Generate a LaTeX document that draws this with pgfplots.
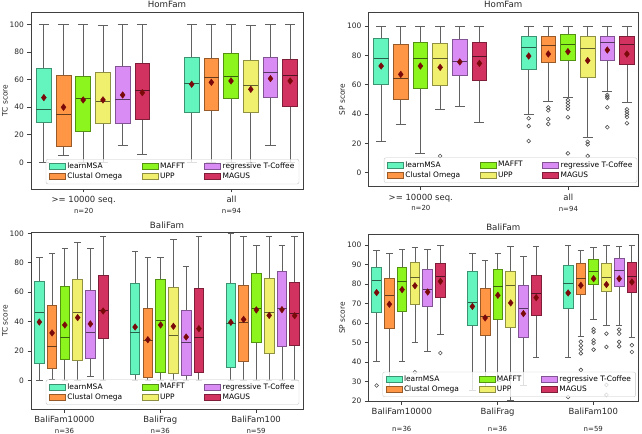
\documentclass[border=0pt]{standalone}
\usepackage{fontspec}
\setmainfont{DejaVu Sans}
\usepackage{pgfplots}
\pgfplotsset{compat=1.18}
\usepgfplotslibrary{statistics}
\definecolor{cA}{HTML}{64F5BE}
\definecolor{cB}{HTML}{FF9646}
\definecolor{cC}{HTML}{8CF51E}
\definecolor{cD}{HTML}{F0F06E}
\definecolor{cE}{HTML}{DA8CF5}
\definecolor{cF}{HTML}{D2325F}
\definecolor{meanred}{HTML}{7A0A0A}
\newcommand{\bxw}{0.1}
\newcommand{\wkw}{0.068}
% color, position, lower whisker, Q1, median, Q3, upper whisker, outliers
\newcommand{\bx}[8]{%
\addplot[forget plot, draw=black!62, line width=0.85bp, mark=o, mark size=1.9bp,
 mark options={draw=black!70, fill=none, line width=0.6bp},
 boxplot/draw direction=y,
 boxplot/every box/.style={fill=#1, draw=#1!60!black, line width=0.8bp},
 boxplot/every median/.style={draw=#1!40!black, line width=1bp},
 boxplot prepared={draw position=#2, lower whisker=#3, lower quartile=#4, median=#5,
 upper quartile=#6, upper whisker=#7, box extend=\bxw, whisker extend=\wkw}]
 coordinates {#8};}
\newcommand{\leg}{%
\addlegendimage{fill=cA,draw=cA!60!black}\addlegendentry{learnMSA}
\addlegendimage{fill=cC,draw=cC!60!black}\addlegendentry{MAFFT}
\addlegendimage{fill=cE,draw=cE!60!black}\addlegendentry{regressive T-Coffee}
\addlegendimage{fill=cB,draw=cB!60!black}\addlegendentry{Clustal Omega}
\addlegendimage{fill=cD,draw=cD!60!black}\addlegendentry{UPP}
\addlegendimage{fill=cF,draw=cF!60!black}\addlegendentry{MAGUS}}
\pgfplotsset{
 legend image code/.code={\draw[#1, sharp corners, fill opacity=1, draw opacity=1, line width=0.7bp] (0bp,-3bp) rectangle (16bp,3bp);},
 panel/.style={
  scale only axis, anchor=south west,
  axis line style={black!75, line width=0.7bp},
  tick style={black!75, line width=0.7bp},
  tick align=outside, major tick length=3.5bp, tick pos=left,
  /pgf/number format/assume math mode=true,
  yticklabel style={font=\fontsize{7.5}{8}\selectfont, text=black!85},
  xticklabel style={font=\fontsize{8.5}{10}\selectfont, text=black!85, align=center},
  ylabel style={font=\fontsize{7.5}{9}\selectfont, text=black!85, anchor=center},
  title style={font=\fontsize{8.7}{10}\selectfont, text=black!85, yshift=-5bp},
  legend columns=3,
  legend cell align=left,
  legend style={anchor=south east, draw=black!22, rounded corners=2bp, fill=white,
   fill opacity=0.8, text opacity=1, font=\fontsize{7.5}{9}\selectfont,
   inner xsep=3bp, inner ysep=2bp, nodes={inner sep=1.6bp},
   /tikz/every even column/.append style={column sep=18bp}},
 },
 meanst/.style={forget plot, only marks, mark=diamond*, mark size=3.3bp,
  mark options={fill=meanred, draw=meanred}},
}
\begin{document}
\begin{tikzpicture}
\useasboundingbox (0,0) rectangle (642bp,434bp);
% ---------------- top left: HomFam TC
\begin{axis}[panel, at={(31bp,245bp)}, width=272bp, height=177bp,
 xmin=-0.42, xmax=1.42, ymin=-19.4, ymax=109.2, ytick={0,20,...,100},
 xtick={-0.064,0.936},
 xticklabels={{>= 10000 seq.\\[1bp]{\fontsize{7}{8}\selectfont n=20}},{all\\[1bp]{\fontsize{7}{8}\selectfont n=94}}},
 ylabel={TC score}, ylabel style={at={(axis description cs:-0.0956,0.5)}},
 title={HomFam}, legend style={at={(0.986,0.027)}}]
\bx{cA}{-0.333}{0}{28.8}{38}{68.3}{100}{}
\bx{cB}{-0.2}{5.3}{11.9}{34.9}{63.4}{100}{}
\bx{cC}{-0.067}{0}{22.5}{46.7}{62.2}{100}{}
\bx{cD}{0.067}{0}{28.3}{44.3}{65.1}{99.5}{}
\bx{cE}{0.2}{12.3}{28.1}{45.8}{69.5}{100}{}
\bx{cF}{0.333}{5.8}{31.2}{51.8}{71.9}{100}{}
\bx{cA}{0.667}{0}{36.1}{57.4}{76.3}{100}{}
\bx{cB}{0.8}{0}{38}{61.7}{75.3}{100}{}
\bx{cC}{0.933}{0}{46.2}{62.2}{79.2}{100}{}
\bx{cD}{1.067}{0}{36.3}{55.7}{74.3}{99.5}{}
\bx{cE}{1.2}{12.6}{47.5}{65.1}{76.3}{100}{}
\bx{cF}{1.333}{0}{40.4}{63.2}{74.8}{100}{}
\addplot[meanst] coordinates {(-0.333,47)(-0.2,40)(-0.067,45.3)(0.067,45.3)(0.2,48.9)(0.333,50.6)(0.667,56.7)(0.8,58.1)(0.933,59.1)(1.067,53)(1.2,60.8)(1.333,59.1)};
\leg
\end{axis}
% ---------------- top right: HomFam SP
\begin{axis}[panel, at={(368.3bp,247.3bp)}, width=270bp, height=174.4bp,
 xmin=-0.42, xmax=1.41, ymin=-9.5, ymax=109.3, ytick={0,20,...,100},
 xtick={-0.064,0.936},
 xticklabels={{>= 10000 seq.\\[1bp]{\fontsize{7}{8}\selectfont n=20}},{all\\[1bp]{\fontsize{7}{8}\selectfont n=94}}},
 ylabel={SP score}, ylabel style={at={(axis description cs:-0.097,0.5)}},
 title={HomFam}, legend style={at={(0.996,0.023)}}]
\bx{cA}{-0.333}{21.6}{60.5}{77.7}{91.4}{100}{}
\bx{cB}{-0.2}{33.2}{50}{64.1}{87.5}{100}{}
\bx{cC}{-0.067}{13.2}{57.5}{77.7}{88.6}{100}{}
\bx{cD}{0.067}{43.4}{59.5}{77.7}{88.2}{100}{(0.067,11.4)}
\bx{cE}{0.2}{45}{66.4}{75.5}{90.9}{100}{}
\bx{cF}{0.333}{34.1}{63.2}{79.1}{88.9}{100}{}
\bx{cA}{0.667}{39.8}{70.5}{85.2}{92.7}{100}{(0.667,37.1)(0.667,31.8)(0.667,21.6)}
\bx{cB}{0.8}{48.9}{75}{86.6}{92.7}{100}{(0.8,44.5)(0.8,42.5)(0.8,36.5)(0.8,33.2)}
\bx{cC}{0.933}{51.4}{76.8}{87.3}{94.3}{100}{(0.933,49.5)(0.933,47.6)(0.933,45.5)(0.933,43.5)(0.933,37.8)(0.933,13.2)}
\bx{cD}{1.067}{24.1}{64.8}{84.5}{92.7}{100}{(1.067,21.1)(1.067,19.3)(1.067,11.4)}
\bx{cE}{1.2}{55.7}{76.8}{88.6}{92.7}{100}{(1.2,53)(1.2,51.8)(1.2,50.8)(1.2,44.6)(1.2,31)}
\bx{cF}{1.333}{47.7}{74.1}{87.5}{92.7}{100}{(1.333,43.2)(1.333,41.5)(1.333,39.7)(1.333,37.9)(1.333,33.7)}
\addplot[meanst] coordinates {(-0.333,72.7)(-0.2,67)(-0.067,72.7)(0.067,71.8)(0.2,75.5)(0.333,74.5)(0.667,79.5)(0.8,80.9)(0.933,82.5)(1.067,76.4)(1.2,83.6)(1.333,80.9)};
\leg
\end{axis}
% ---------------- bottom left: BaliFam TC
\begin{axis}[panel, at={(31bp,24.7bp)}, width=272bp, height=176.6bp,
 xmin=-0.42, xmax=2.42, ymin=-19.4, ymax=100.4, ytick={0,20,...,100},
 xtick={-0.07,0.93,1.93},
 xticklabels={{BaliFam10000\\[1bp]{\fontsize{7}{8}\selectfont n=36}},{BaliFrag\\[1bp]{\fontsize{7}{8}\selectfont n=36}},{BaliFam100\\[1bp]{\fontsize{7}{8}\selectfont n=59}}},
 ylabel={TC score}, ylabel style={at={(axis description cs:-0.0956,0.5)}},
 title={BaliFam}, legend style={at={(0.986,0.026)}}]
\bx{cA}{-0.333}{0}{12}{46.2}{67.4}{83.3}{}
\bx{cB}{-0.2}{1}{8.1}{23.1}{51.1}{86.5}{}
\bx{cC}{-0.067}{0}{14.3}{29.4}{64.3}{89.6}{}
\bx{cD}{0.067}{0}{13.8}{46.6}{69}{93.9}{}
\bx{cE}{0.2}{2.7}{14.9}{32.8}{61.5}{89.6}{}
\bx{cF}{0.333}{0}{28.5}{47.3}{71.7}{98}{}
\bx{cA}{0.667}{0}{4.3}{32.8}{66.3}{87.6}{}
\bx{cB}{0.8}{0}{2.3}{27.1}{49.3}{83.5}{}
\bx{cC}{0.933}{0}{5.4}{40.7}{69}{83.5}{}
\bx{cD}{1.067}{0}{5.2}{30.8}{63.1}{95.9}{}
\bx{cE}{1.2}{0}{3.6}{26.2}{47.7}{77.6}{}
\bx{cF}{1.333}{0}{5.9}{29.4}{62.9}{98}{}
\bx{cA}{1.667}{0}{9.3}{39.1}{65.8}{100}{}
\bx{cB}{1.8}{0}{13.3}{39.8}{64.7}{98}{}
\bx{cC}{1.933}{0}{26.2}{49.3}{72.6}{91.9}{}
\bx{cD}{2.067}{0}{18.8}{46.2}{69.5}{98}{}
\bx{cE}{2.2}{0}{23.1}{49.1}{74.2}{91.9}{}
\bx{cF}{2.333}{0}{24}{45.7}{67}{98}{}
\addplot[meanst] coordinates {(-0.333,39.8)(-0.2,32.4)(-0.067,37.8)(0.067,42.8)(0.2,38.5)(0.333,47.3)(0.667,36.4)(0.8,27.8)(0.933,37.8)(1.067,36.9)(1.2,29.6)(1.333,35.3)(1.667,39.6)(1.8,41.6)(1.933,48)(2.067,44.3)(2.2,48.2)(2.333,44.1)};
\leg
\end{axis}
% ---------------- bottom right: BaliFam SP
\begin{axis}[panel, at={(368.3bp,32.7bp)}, width=270bp, height=166.6bp,
 xmin=-0.42, xmax=2.4, ymin=19.8, ymax=105.3, ytick={20,30,...,100},
 xtick={-0.07,0.93,1.93},
 xticklabels={{BaliFam10000\\[6.5bp]{\fontsize{7}{8}\selectfont n=36}},{BaliFrag\\[6.5bp]{\fontsize{7}{8}\selectfont n=36}},{BaliFam100\\[6.5bp]{\fontsize{7}{8}\selectfont n=59}}},
 ylabel={SP score}, ylabel style={at={(axis description cs:-0.097,0.5)}},
 title={BaliFam}, legend style={at={(0.991,0.026)}}]
\bx{cA}{-0.333}{40.3}{65.3}{81.9}{88.4}{97.3}{(-0.333,27.9)}
\bx{cB}{-0.2}{26}{57.1}{74}{83.1}{95.6}{}
\bx{cC}{-0.067}{40.3}{65.8}{81.4}{88.4}{97.8}{}
\bx{cD}{0.067}{49.9}{69.4}{83.2}{90.9}{99}{(0.067,34.7)}
\bx{cE}{0.2}{45.5}{68.7}{77.3}{87.4}{97.8}{}
\bx{cF}{0.333}{54.2}{73.3}{84.1}{90.4}{99.7}{(0.333,44.6)}
\bx{cA}{0.667}{25.6}{58.8}{70.4}{86.5}{95.6}{}
\bx{cB}{0.8}{27}{53.7}{63.1}{77.8}{92.1}{}
\bx{cC}{0.933}{30}{61.7}{78.5}{87.4}{95.6}{}
\bx{cD}{1.067}{20.5}{57.6}{79.3}{86.7}{99.3}{}
\bx{cE}{1.2}{27.7}{52.8}{67.2}{79.3}{94.2}{}
\bx{cF}{1.333}{42.4}{63.9}{75}{84.4}{99.5}{}
\bx{cA}{1.667}{42.4}{67.4}{80.5}{89.6}{100}{(1.667,22)}
\bx{cB}{1.8}{53}{74.6}{82.7}{90.8}{97.3}{(1.8,50.4)(1.8,48.4)(1.8,46.4)(1.8,44.4)(1.8,35.9)}
\bx{cC}{1.933}{61.7}{79.8}{86.5}{92.6}{98.6}{(1.933,56.8)(1.933,55.4)(1.933,51.1)(1.933,49.7)(1.933,46.3)}
\bx{cD}{2.067}{58.8}{76.4}{83.1}{90.4}{99.7}{(2.067,54.5)(2.067,47.7)(2.067,28.2)(2.067,23.1)}
\bx{cE}{2.2}{58.8}{79}{87}{93}{99.5}{(2.2,56.6)(2.2,54.5)(2.2,50.3)(2.2,48)}
\bx{cF}{2.333}{52.5}{75.9}{83.9}{91.3}{99.7}{(2.333,48.6)(2.333,45.1)}
\addplot[meanst] coordinates {(-0.333,75.6)(-0.2,69.6)(-0.067,77.1)(0.067,79.1)(0.2,75.9)(0.333,81.4)(0.667,68.5)(0.8,62.6)(0.933,74.2)(1.067,70.3)(1.2,64.8)(1.333,73)(1.667,75.4)(1.8,79.3)(1.933,82.7)(2.067,79.7)(2.2,82.7)(2.333,81)};
\leg
\end{axis}
\end{tikzpicture}
\end{document}
